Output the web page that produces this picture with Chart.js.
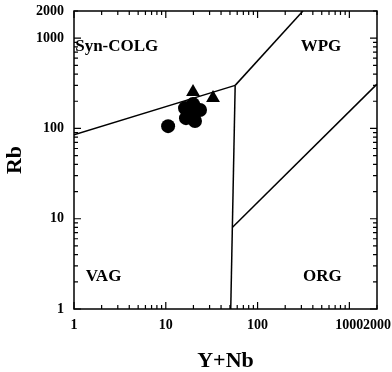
<!DOCTYPE html>
<html>
<head>
<meta charset="utf-8">
<script src="https://cdn.jsdelivr.net/npm/chart.js@4.4.1/dist/chart.umd.min.js"></script>
<style>
  html, body { margin: 0; padding: 0; background: #fff; }
  #wrap { width: 392px; height: 372px; }
</style>
</head>
<body>
<div id="wrap"><canvas id="chart-rb"></canvas></div>
<script>
// samples (Y+Nb vs Rb)
const circleX = [10.6, 16.2, 16.6, 20.8, 23.6, 19.8, 18.4];
const circleY = [106, 168, 130, 121, 160, 186, 144];
const triangleX = [19.8, 32.7];
const triangleY = [253, 217];

// field boundaries
const colgVagX = [1, 57];
const colgVagY = [85, 300];
const colgWpgX = [57, 312];
const colgWpgY = [300, 2000];
const vagWpgX = [57, 51];
const vagWpgY = [300, 1];
const orgWpgX = [53, 2000];
const orgWpgY = [8, 310];

const tickValues = [1, 10, 100, 1000, 2000];

// field names
const fieldNames = ['Syn-COLG', 'WPG', 'VAG', 'ORG'];
const fieldX = [1.03, 490, 2.1, 509];
const fieldY = [800, 800, 2.26, 2.26];

const serif = "'Liberation Serif', 'Times New Roman', serif";

function pts(xs, ys) {
    return xs.map((x, i) => ({x: x, y: ys[i]}));
}

function boundary(xs, ys) {
    return {
        type: 'line',
        data: pts(xs, ys),
        borderColor: '#000',
        borderWidth: 1.5,
        pointRadius: 0,
        fill: false,
        tension: 0,
        order: 2
    };
}

// frame, inward ticks and field names
const framePlugin = {
    id: 'frame',
    afterDatasetsDraw(chart) {
        const {ctx, chartArea: a, scales} = chart;
        const xs = scales.x, ys = scales.y;
        ctx.save();
        ctx.strokeStyle = '#000';
        ctx.lineWidth = 1.5;
        ctx.strokeRect(a.left, a.top, a.right - a.left, a.bottom - a.top);

        ctx.lineWidth = 1.2;
        for (let d = 1; d <= 1000; d *= 10) {
            for (let m = 1; m <= 9; m++) {
                const v = d * m;
                if (v > 2000) break;
                const len = m === 1 ? 7 : 4;
                const px = xs.getPixelForValue(v);
                const py = ys.getPixelForValue(v);
                ctx.beginPath();
                ctx.moveTo(px, a.bottom); ctx.lineTo(px, a.bottom - len);
                ctx.moveTo(px, a.top); ctx.lineTo(px, a.top + len);
                ctx.moveTo(a.left, py); ctx.lineTo(a.left + len, py);
                ctx.moveTo(a.right, py); ctx.lineTo(a.right - len, py);
                ctx.stroke();
            }
        }

        ctx.fillStyle = '#000';
        ctx.font = 'bold 17px ' + serif;
        ctx.textBaseline = 'middle';
        fieldNames.forEach((name, i) => {
            ctx.textAlign = i === 0 ? 'left' : 'center';
            ctx.fillText(name, xs.getPixelForValue(fieldX[i]), ys.getPixelForValue(fieldY[i]));
        });
        ctx.restore();
    }
};

const ctx = document.getElementById('chart-rb').getContext('2d');
const chart = new Chart(ctx, {
    type: 'scatter',
    data: {
        datasets: [{
            label: 'circles',
            data: pts(circleX, circleY),
            pointStyle: 'circle',
            pointRadius: 7,
            backgroundColor: '#000',
            borderWidth: 0,
            order: 0
        }, {
            label: 'triangles',
            data: pts(triangleX, triangleY),
            pointStyle: 'triangle',
            pointRadius: 8,
            backgroundColor: '#000',
            borderWidth: 0,
            order: 0
        },
        boundary(colgVagX, colgVagY),
        boundary(colgWpgX, colgWpgY),
        boundary(vagWpgX, vagWpgY),
        boundary(orgWpgX, orgWpgY)]
    },
    options: {
        responsive: true,
        maintainAspectRatio: false,
        animation: false,
        layout: { padding: { top: 11, right: 15, left: 0, bottom: 0 } },
        plugins: {
            legend: { display: false },
            tooltip: { enabled: false }
        },
        scales: {
            x: {
                type: 'logarithmic',
                min: 1,
                max: 2000,
                grid: { display: false, drawTicks: false },
                border: { display: false },
                afterBuildTicks: s => { s.ticks = tickValues.map(v => ({value: v})); },
                afterFit: s => { s.height = 63; s.paddingLeft = 0; s.paddingRight = 0; },
                ticks: {
                    color: '#000',
                    padding: 8,
                    maxRotation: 0,
                    autoSkip: false,
                    font: { family: serif, size: 14, weight: 'bold' },
                    callback: v => String(v)
                },
                title: {
                    display: true,
                    text: 'Y+Nb',
                    color: '#000',
                    padding: 0,
                    font: { family: serif, size: 22, weight: 'bold', lineHeight: 1 }
                }
            },
            y: {
                type: 'logarithmic',
                min: 1,
                max: 2000,
                grid: { display: false, drawTicks: false },
                border: { display: false },
                afterBuildTicks: s => { s.ticks = tickValues.map(v => ({value: v})); },
                afterFit: s => { s.width = 74; s.paddingTop = 0; s.paddingBottom = 0; },
                ticks: {
                    color: '#000',
                    padding: 10,
                    autoSkip: false,
                    font: { family: serif, size: 14, weight: 'bold' },
                    callback: v => String(v)
                },
                title: {
                    display: true,
                    text: 'Rb',
                    color: '#000',
                    padding: { top: 2, bottom: 0 },
                    font: { family: serif, size: 22, weight: 'bold' }
                }
            }
        }
    },
    plugins: [framePlugin]
});
</script>
</body>
</html>
